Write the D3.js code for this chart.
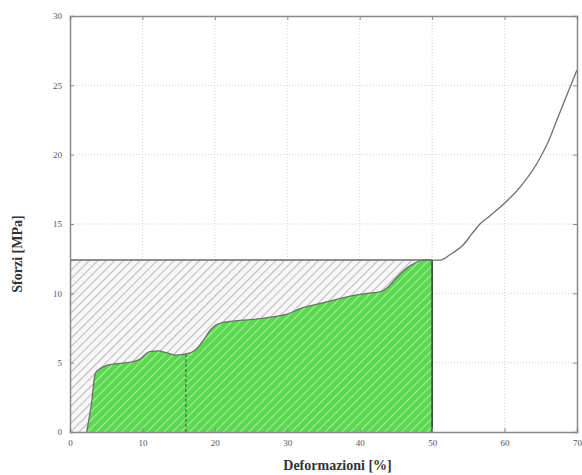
<!DOCTYPE html>
<html>
<head>
<meta charset="utf-8">
<script src="https://cdn.jsdelivr.net/npm/d3@7"></script>
<style>
  body { margin: 0; background: #fff; }
  svg text { font-family: "Liberation Serif", "DejaVu Serif", serif; }
</style>
</head>
<body>
<div id="chart"></div>
<script>
(function(d3) {
    'use strict';

    // curve
    var strain = [2.3, 3.0, 3.5, 4.6, 6.0, 7.9, 9.5, 11.0, 12.2, 13.4, 14.7, 16.6, 17.5, 18.4, 19.3, 20.5, 22.5,
                  25.0, 28.0, 30.0, 31.8, 34.0, 36.3, 38.7, 41.0, 42.8, 44.0, 45.2, 47.0, 48.8, 50.0,
                  51.1, 52.5, 54.3, 55.5, 56.6, 58.0, 59.8, 62.2, 64.5, 66.0, 67.3, 68.6, 70.0];
    var stress = [0, 2.2, 4.25, 4.7, 4.9, 5.0, 5.2, 5.8, 5.85, 5.7, 5.55, 5.7, 6.0, 6.6, 7.3, 7.8, 8.0,
                  8.1, 8.3, 8.5, 8.9, 9.2, 9.5, 9.8, 10.0, 10.1, 10.5, 11.2, 12.0, 12.4, 12.4,
                  12.4, 12.8, 13.5, 14.3, 15.0, 15.6, 16.4, 17.7, 19.4, 20.9, 22.6, 24.3, 26.1];
    var xTicks = [0, 10, 20, 30, 40, 50, 60, 70];
    var yTicks = [0, 5, 10, 15, 20, 25, 30];
    var yieldStrain = 50;   // limit of the energy area
    var yieldStress = 12.4;
    var markStrain = 16;    // dashed marker

    var width = 582;
    var height = 475;
    var margin = { left: 70, right: 5, top: 16, bottom: 43 };
    var innerW = width - margin.left - margin.right;
    var innerH = height - margin.top - margin.bottom;

    var points = strain.map(function(s, i) { return { x: s, y: stress[i] }; });

    var svg = d3.select('#chart')
      .append('svg')
      .attr('width', width)
      .attr('height', height);

    var defs = svg.append('defs');

    var grayHatch = defs.append('pattern')
      .attr('id', 'grayHatch')
      .attr('patternUnits', 'userSpaceOnUse')
      .attr('width', 6)
      .attr('height', 6)
      .attr('patternTransform', 'rotate(45)');
    grayHatch.append('rect').attr('width', 6).attr('height', 6).attr('fill', '#f8f6f8');
    grayHatch.append('line')
      .attr('x1', 0).attr('y1', 0).attr('x2', 0).attr('y2', 6)
      .attr('stroke', '#bdbdbd').attr('stroke-width', 2.2);

    var greenHatch = defs.append('pattern')
      .attr('id', 'greenHatch')
      .attr('patternUnits', 'userSpaceOnUse')
      .attr('width', 6)
      .attr('height', 6)
      .attr('patternTransform', 'rotate(45)');
    greenHatch.append('rect').attr('width', 6).attr('height', 6).attr('fill', '#5ad850');
    greenHatch.append('line')
      .attr('x1', 0).attr('y1', 0).attr('x2', 0).attr('y2', 6)
      .attr('stroke', '#a8ec9c').attr('stroke-width', 2.2);

    var g = svg.append('g')
      .attr('transform', 'translate(' + margin.left + ',' + margin.top + ')');

    var x = d3.scaleLinear().domain([0, 70]).range([0, innerW]);
    var y = d3.scaleLinear().domain([0, 30]).range([innerH, 0]);

    // grid
    g.append('g')
      .selectAll('line')
      .data(xTicks.slice(1, -1))
      .enter()
      .append('line')
      .attr('x1', function(d) { return x(d); })
      .attr('x2', function(d) { return x(d); })
      .attr('y1', 0)
      .attr('y2', innerH)
      .attr('stroke', '#d0d0d0')
      .attr('stroke-dasharray', '1,2');

    g.append('g')
      .selectAll('line')
      .data(yTicks.slice(1, -1))
      .enter()
      .append('line')
      .attr('x1', 0)
      .attr('x2', innerW)
      .attr('y1', function(d) { return y(d); })
      .attr('y2', function(d) { return y(d); })
      .attr('stroke', '#d0d0d0')
      .attr('stroke-dasharray', '1,2');

    // hatched rectangle up to the yield point
    g.append('rect')
      .attr('x', x(0))
      .attr('y', y(yieldStress))
      .attr('width', x(yieldStrain) - x(0))
      .attr('height', y(0) - y(yieldStress))
      .attr('fill', 'url(#grayHatch)')
      .attr('stroke', 'none');

    var under = points.filter(function(p) { return p.x <= yieldStrain; });

    var area = d3.area()
      .x(function(d) { return x(d.x); })
      .y0(y(0))
      .y1(function(d) { return y(d.y); })
      .curve(d3.curveMonotoneX);

    g.append('path')
      .datum(under)
      .attr('d', area)
      .attr('fill', 'url(#greenHatch)');

    g.append('line')
      .attr('x1', x(0))
      .attr('x2', x(yieldStrain))
      .attr('y1', y(yieldStress))
      .attr('y2', y(yieldStress))
      .attr('stroke', '#6a6a6a')
      .attr('stroke-width', 1.5);

    g.append('line')
      .attr('x1', x(yieldStrain))
      .attr('x2', x(yieldStrain))
      .attr('y1', y(0))
      .attr('y2', y(yieldStress))
      .attr('stroke', '#2e4a2e')
      .attr('stroke-width', 1.6);

    var markY = d3.scaleLinear().domain(strain).range(stress)(markStrain);
    g.append('line')
      .attr('x1', x(markStrain))
      .attr('x2', x(markStrain))
      .attr('y1', y(0))
      .attr('y2', y(markY))
      .attr('stroke', '#2f5a2f')
      .attr('stroke-dasharray', '3,2');

    var line = d3.line()
      .x(function(d) { return x(d.x); })
      .y(function(d) { return y(d.y); })
      .curve(d3.curveMonotoneX);

    g.append('path')
      .datum(points)
      .attr('d', line)
      .attr('fill', 'none')
      .attr('stroke', '#6f6f6f')
      .attr('stroke-width', 1.3);

    // axes
    var xAxis = g.append('g')
      .attr('transform', 'translate(0,' + innerH + ')')
      .call(d3.axisBottom(x).tickValues(xTicks).tickSize(-4).tickPadding(8));
    var yAxis = g.append('g')
      .call(d3.axisLeft(y).tickValues(yTicks).tickSize(-4).tickPadding(8));
    var xTop = g.append('g')
      .call(d3.axisTop(x).tickValues(xTicks).tickSize(-4).tickFormat(''));
    var yRight = g.append('g')
      .attr('transform', 'translate(' + innerW + ',0)')
      .call(d3.axisRight(y).tickValues(yTicks).tickSize(-4).tickFormat(''));

    [xAxis, yAxis, xTop, yRight].forEach(function(a) {
      a.select('.domain').attr('stroke', '#8a8a8a').attr('stroke-width', 1.5);
      a.selectAll('.tick line').attr('stroke', '#8a8a8a');
      a.selectAll('.tick text')
        .attr('fill', '#555')
        .style('font-size', '9px');
    });

    svg.append('text')
      .attr('x', margin.left + innerW / 2 + 14)
      .attr('y', height - 5)
      .attr('text-anchor', 'middle')
      .attr('font-weight', 'bold')
      .attr('fill', '#333')
      .style('font-size', '14px')
      .text('Deformazioni [%]');

    svg.append('text')
      .attr('transform', 'translate(22,' + (margin.top + innerH / 2 + 30) + ') rotate(-90)')
      .attr('text-anchor', 'middle')
      .attr('font-weight', 'bold')
      .attr('fill', '#333')
      .style('font-size', '14px')
      .text('Sforzi [MPa]');

})(window.d3);
</script>
</body>
</html>
